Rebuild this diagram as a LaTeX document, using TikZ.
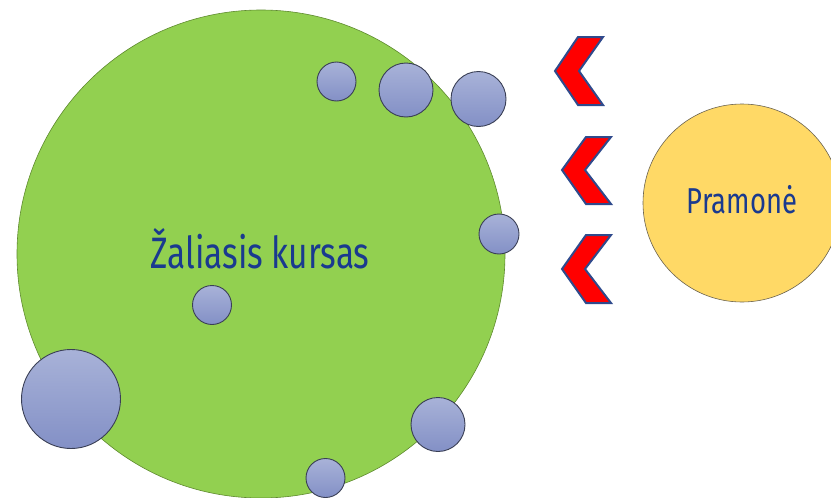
\documentclass[tikz,border=0pt]{standalone}
\usepackage{fontspec}
\newfontfamily\narrowfont[FakeStretch=0.76]{Fira Sans}
\definecolor{greenfill}{HTML}{92D050}
\definecolor{greenline}{HTML}{5E8A2E}
\definecolor{yellowfill}{HTML}{FFD966}
\definecolor{yellowline}{HTML}{6B6350}
\definecolor{bluetop}{HTML}{A8B2D8}
\definecolor{bluebot}{HTML}{8390C6}
\definecolor{blueline}{HTML}{3A3F55}
\definecolor{chevline}{HTML}{2F4A8C}
\definecolor{textblue}{HTML}{1A3A8F}
\tikzset{
  bubble/.style={circle, inner sep=0pt, draw=blueline, line width=0.9pt, top color=bluetop, bottom color=bluebot},
  bigcircle/.style={circle, inner sep=0pt, line width=0.6pt},
  chevron/.style={fill=red, draw=chevline, line width=2pt, line join=miter},
  labeltext/.style={text=textblue, inner sep=0pt}
}
\begin{document}
\begin{tikzpicture}[x=1pt,y=-1pt]
\useasboundingbox (0,0) rectangle (831,498);
\node[bigcircle, draw=greenline, fill=greenfill, minimum size=488pt] (green) at (261,254) {};
\node[bigcircle, draw=yellowline, fill=yellowfill, minimum size=198pt] (yellow) at (742,203) {};
\node[labeltext, font=\narrowfont\fontsize{44}{50}\selectfont, anchor=base] (zk) at (260,268) {Žaliasis kursas};
\node[labeltext, font=\narrowfont\fontsize{36}{42}\selectfont, anchor=base] (pr) at (742,213) {Pramonė};
% bubbles
\node[bubble, minimum size=39pt] (b1) at (336.5,81.5) {};
\node[bubble, minimum size=54pt] (b2) at (406,90) {};
\node[bubble, minimum size=55pt] (b3) at (478.5,99) {};
\node[bubble, minimum size=40pt] (b4) at (499,234) {};
\node[bubble, minimum size=39pt] (b5) at (212,305) {};
\node[bubble, minimum size=99pt] (b6) at (71,399) {};
\node[bubble, minimum size=54pt] (b7) at (438,424.5) {};
\node[bubble, minimum size=39pt] (b8) at (325.5,478) {};
% chevrons
\draw[chevron] (555,71) -- (578,37) -- (603,37) -- (579,71) -- (603,105) -- (578,105) -- cycle;
\draw[chevron] (562,170) -- (586,137) -- (611,137) -- (585,170) -- (611,204) -- (586,204) -- cycle;
\draw[chevron] (562,269) -- (586,235) -- (611,235) -- (585,269) -- (611,303) -- (586,303) -- cycle;
\end{tikzpicture}
\end{document}
